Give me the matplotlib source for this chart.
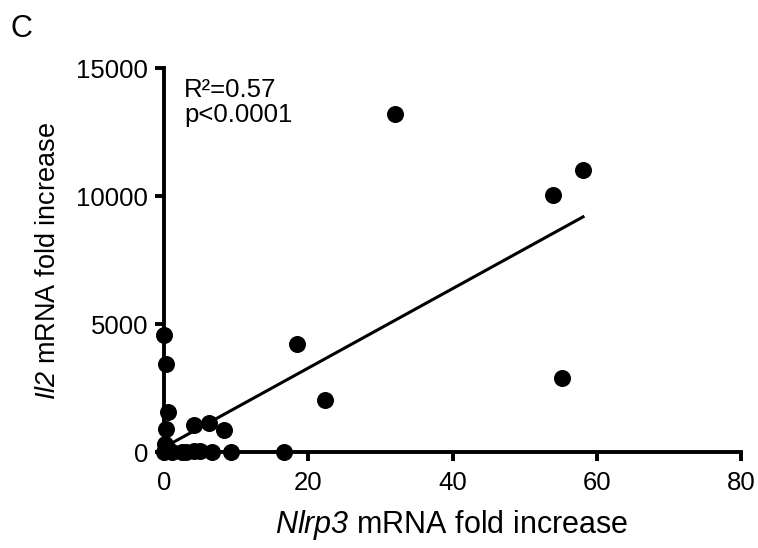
import numpy as np
import matplotlib.pyplot as plt

plt.rcParams['font.family'] = 'Liberation Sans'
plt.rcParams['mathtext.fontset'] = 'custom'
plt.rcParams['mathtext.it'] = 'Liberation Sans:italic'
plt.rcParams['mathtext.rm'] = 'Liberation Sans:italic'

# Nlrp3 vs Il2 fold increase
nlrp3 = [32.0, 54.0, 58.1, 55.2, 18.5, 22.3, 0.0, 0.3, 0.5, 0.3, 0.2,
         4.2, 6.3, 8.3, 0.0, 1.1, 2.5, 4.2, 6.7, 9.3, 16.7, 0.5, 3.0, 5.0]
il2 = [13200, 10050, 11000, 2900, 4200, 2050, 4580, 3450, 1550, 900, 300,
       1050, 1130, 850, 0, 0, 0, 50, 0, 0, 0, 100, 0, 30]

# linear fit line shown in the figure
fit_slope = 155.0
fit_intercept = 180.0
fit_range = [0, 58.1]

W, H = 758, 548
fig = plt.figure(figsize=(W / 100, H / 100), dpi=100)
ax = fig.add_axes([164 / W, 1 - 452 / H, 577 / W, 384 / H])

ax.scatter(nlrp3, il2, s=150, color='black', zorder=3, clip_on=False, linewidths=0)
xf = np.array(fit_range)
ax.plot(xf, fit_intercept + fit_slope * xf, color='black', lw=2.2, zorder=2)

ax.set_xlim(0, 80)
ax.set_ylim(0, 15000)
ax.set_xticks([0, 20, 40, 60, 80])
ax.set_yticks([0, 5000, 10000, 15000])

for s in ['top', 'right']:
    ax.spines[s].set_visible(False)
for s in ['left', 'bottom']:
    ax.spines[s].set_linewidth(2.8)
ax.tick_params(axis='both', direction='out', length=6.5, width=2.8, labelsize=18.5)
ax.tick_params(axis='y', pad=5)
ax.tick_params(axis='x', pad=7)

# axis labels (italic gene names)
fig.text(452 / W, 1 - 533 / H, r'$Nlrp3$ mRNA fold increase', fontsize=22,
         ha='center', va='baseline')
fig.text(55 / W, 1 - 261 / H, r'$Il2$ mRNA fold increase', fontsize=19.5,
         ha='center', va='baseline', rotation=90, rotation_mode='anchor')

fig.text(184 / W, 1 - 97 / H, 'R²=0.57', fontsize=18.5, ha='left', va='baseline')
fig.text(184 / W, 1 - 122 / H, 'p<0.0001', fontsize=18.5, ha='left', va='baseline')

fig.text(11 / W, 1 - 37 / H, 'C', fontsize=22, ha='left', va='baseline')

fig.savefig('out.png', dpi=100)
